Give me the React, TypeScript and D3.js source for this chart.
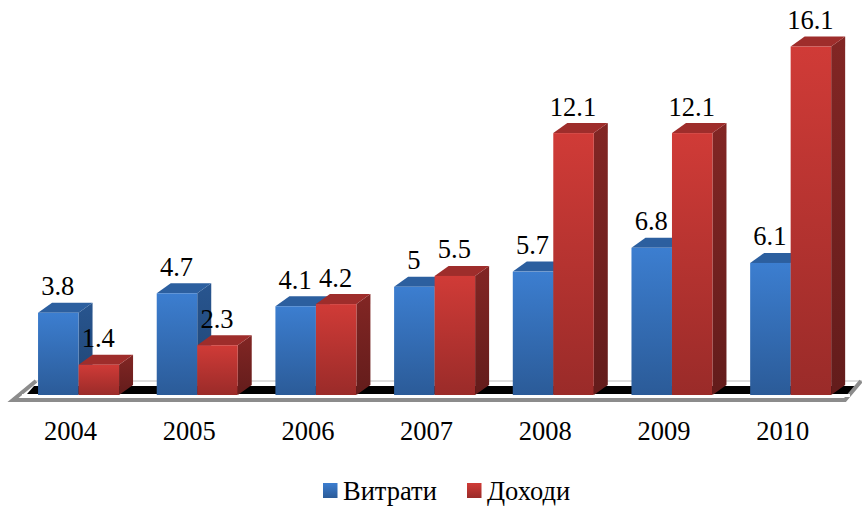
import React from "react"
import * as d3 from "d3"

const years = ["2004", "2005", "2006", "2007", "2008", "2009", "2010"]
const seriesNames = ["Витрати", "Доходи"]
const costs = [3.8, 4.7, 4.1, 5, 5.7, 6.8, 6.1]
const income = [1.4, 2.3, 4.2, 5.5, 12.1, 12.1, 16.1]

const width = 862
const height = 508
const baseY = 395
const depthX = 14
const depthY = 10
const font = "'Liberation Serif', 'Times New Roman', serif"
const fontSize = 26.5

const xScale = d3.scaleBand().domain(years).range([19.2, 850])
const barScale = d3.scaleBand().domain(seriesNames).range([0, 81]).padding(0)
const yScale = d3.scaleLinear().domain([0, 16.1]).range([baseY, 46.5])

const fills = [
  { id: "blue", front0: "#3c7ed0", front1: "#2b5b98", side0: "#28558f", side1: "#1f4472", top: "#2c5f9f" },
  { id: "red", front0: "#d03b37", front1: "#9a2b29", side0: "#822624", side1: "#631c1b", top: "#9e2d2b" },
]

const poly = (pts: [number, number][]) => d3.line()(pts) + "Z"
const groupX = (year: string) => (xScale(year) as number) + (xScale.bandwidth() - barScale.range()[1]) / 2

export default function App() {
  const values = [costs, income]
  return (
    <svg width={width} height={height} style={{ position: "absolute", left: 0, top: 0, background: "#fff" }}>
      <defs>
        {fills.map(f => (
          <React.Fragment key={f.id}>
            <linearGradient id={f.id + "Bar"} x1="0" y1="0" x2="0" y2="1">
              <stop offset="0" stopColor={f.front0} />
              <stop offset="1" stopColor={f.front1} />
            </linearGradient>
            <linearGradient id={f.id + "Side"} x1="0" y1="0" x2="0" y2="1">
              <stop offset="0" stopColor={f.side0} />
              <stop offset="1" stopColor={f.side1} />
            </linearGradient>
          </React.Fragment>
        ))}
      </defs>

      {/* floor */}
      <path d={poly([[13, 400], [845, 400], [861, 381], [36, 381]])} fill="#fff" stroke="#dcdcdc" strokeWidth={2} />
      <path d={poly([[27, 394], [850, 394], [857, 386], [34, 386]])} fill="#000" />
      <path d={d3.line()([[36, 381], [13, 400], [845, 400], [861, 381]]) || ""} fill="none" stroke="#8c8c8c" strokeWidth={4} />
      <rect x={22} y={394} width={828} height={3} fill="#fff" />

      {/* bars */}
      {years.map((year, i) => (
        <g key={year} transform={`translate(${groupX(year)},0)`}>
          {seriesNames.map((name, s) => {
            const f = fills[s]
            const x0 = barScale(name) as number
            const x1 = x0 + barScale.bandwidth()
            const top = yScale(values[s][i])
            return (
              <g key={name}>
                <path
                  d={poly([[x1, top], [x1 + depthX, top - depthY], [x1 + depthX, baseY - depthY], [x1, baseY]])}
                  fill={`url(#${f.id}Side)`}
                />
                <path
                  d={poly([[x0, top], [x0 + depthX, top - depthY], [x1 + depthX, top - depthY], [x1, top]])}
                  fill={f.top}
                />
                <rect x={x0} y={top} width={x1 - x0} height={baseY - top} fill={`url(#${f.id}Bar)`} />
              </g>
            )
          })}
        </g>
      ))}

      {/* value labels */}
      {years.map((year, i) => (
        <g key={year} transform={`translate(${groupX(year)},0)`}>
          {seriesNames.map((name, s) => (
            <text
              key={name}
              x={(barScale(name) as number) + barScale.bandwidth() / 2 - 0.5}
              y={yScale(values[s][i]) - 17.5}
              textAnchor="middle"
              fontFamily={font}
              fontSize={fontSize}
              fill="#000"
            >
              {values[s][i]}
            </text>
          ))}
        </g>
      ))}

      {/* x axis labels */}
      {years.map(year => (
        <text
          key={year}
          x={(xScale(year) as number) + xScale.bandwidth() / 2 - 8}
          y={440}
          textAnchor="middle"
          fontFamily={font}
          fontSize={fontSize}
          fill="#000"
        >
          {year}
        </text>
      ))}

      {/* legend */}
      {seriesNames.map((name, s) => {
        const lx = [323, 467][s]
        return (
          <g key={name}>
            <rect x={lx} y={483} width={14.5} height={15} fill={`url(#${fills[s].id}Bar)`} />
            <text x={lx + 20} y={500} fontFamily={font} fontSize={fontSize} fill="#000">{name}</text>
          </g>
        )
      })}
    </svg>
  )
}
